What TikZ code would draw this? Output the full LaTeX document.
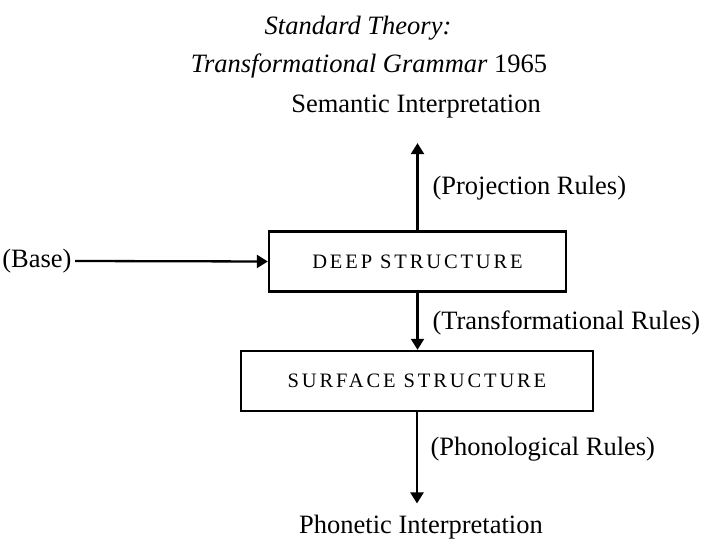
\documentclass[tikz,border=0pt]{standalone}
\usepackage{fontspec}
\setmainfont{Liberation Serif}
\usetikzlibrary{arrows.meta,positioning}

\begin{document}
\begin{tikzpicture}[x=1pt,y=1pt,
    every node/.style={font=\fontsize{26.5}{31}\selectfont},
    heading/.style={font=\fontsize{26.5}{31}\selectfont\itshape},
    struct/.style={draw,line width=2.4pt,minimum height=60pt,inner sep=0pt,
        font=\fontsize{20.5}{24}\selectfont\addfontfeature{LetterSpace=14}},
    rulelabel/.style={anchor=west},
    flow/.style={line width=2.3pt,-{Triangle[length=11pt,width=13pt]}}]
    \useasboundingbox (0,0) rectangle (708,540);

    % Heading
    \node[heading] (title) at (358,512) {Standard Theory:};
    \node[heading] (subtitle) at (369,474) {Transformational Grammar \upshape 1965};

    % Levels of representation
    \node (sem) at (416,433) {Semantic Interpretation};
    \node[struct,minimum width=297pt] (deep) at (417.5,278.5) {DEEP STRUCTURE};
    \node[struct,minimum width=352pt] (surf) at (417,159) {SURFACE STRUCTURE};
    \node (phon) at (421,13) {Phonetic Interpretation};
    \node[anchor=east] (base) at (75,279) {(Base)};

    % Rule components
    \node[rulelabel] (proj) at (429,352) {(Projection Rules)};
    \node[rulelabel] (trans) at (429,217) {(Transformational Rules)};
    \node[rulelabel] (phonrules) at (427,91) {(Phonological Rules)};

    % Arrows
    \draw[flow] (base.east) -- (deep.west);
    \draw[flow,shorten >=21pt] (deep.north) -- (deep.north |- sem.south);
    \draw[flow] (deep.south) -- (deep.south |- surf.north);
    \draw[flow,shorten >=8pt] (surf.south) -- (surf.south |- phon.north);
\end{tikzpicture}
\end{document}
